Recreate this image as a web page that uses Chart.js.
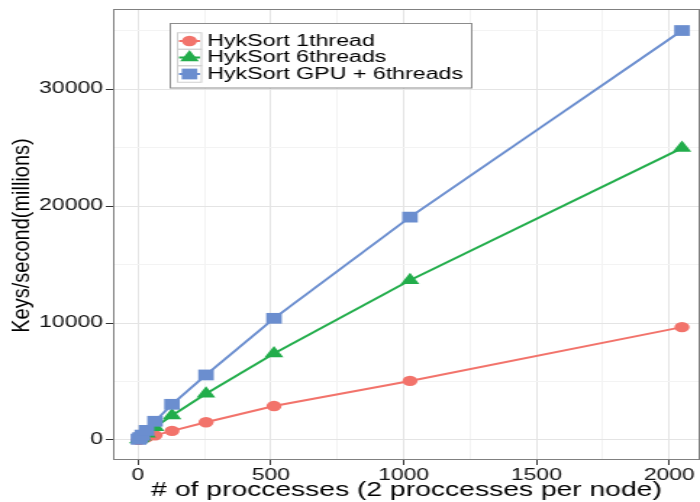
<!DOCTYPE html>
<html>
<head>
<meta charset="utf-8">
<script src="https://cdn.jsdelivr.net/npm/chart.js@4.4.1/dist/chart.umd.min.js"></script>
<style>
  html, body { margin: 0; padding: 0; background: #fff; overflow: hidden; }
  /* the reference is stretched sideways, so the chart is drawn narrow and scaled */
  #wrap { width: 483px; height: 502px; transform: scaleX(1.4493); transform-origin: 0 0; }
</style>
</head>
<body>
<div id="wrap"><canvas id="chart"></canvas></div>
<script>
// DATA
const processes = [2, 4, 8, 16, 32, 64, 128, 256, 512, 1024, 2048];
const oneThread = [15, 30, 60, 120, 230, 400, 780, 1520, 2900, 5050, 9650];
const sixThreads = [35, 70, 140, 270, 540, 1100, 2100, 3950, 7400, 13650, 24950];
const gpuSixThreads = [55, 105, 210, 420, 820, 1600, 3050, 5560, 10400, 19050, 35000];
const seriesNames = ["HykSort 1thread", "HykSort 6threads", "HykSort GPU + 6threads"];
const xTicks = [0, 500, 1000, 1500, 2000];
const xMinorTicks = [250, 750, 1250, 1750];
const yTicks = [0, 10000, 20000, 30000];
const yMinorTicks = [5000, 15000, 25000, 35000];
const xTitle = "# of proccesses (2 proccesses per node)";
const yTitle = "Keys/second(millions)";

const FONT = '"Liberation Sans", Arial, Helvetica, sans-serif';

function toPoints(values) {
  return processes.map((p, i) => ({ x: p, y: values[i] }));
}

function setTicks(major, minor) {
  return (scale) => {
    scale.ticks = major.concat(minor)
      .sort((a, b) => a - b)
      .map((v) => ({ value: v, major: major.includes(v) }));
  };
}

// y title is drawn by hand so it can be squeezed like the original
const yTitlePlugin = {
  id: "yTitle",
  afterDraw(chart) {
    const ctx = chart.ctx;
    ctx.save();
    ctx.translate(20, 235.5);
    ctx.rotate(-Math.PI / 2);
    ctx.scale(1, 0.8);
    ctx.font = "20px " + FONT;
    ctx.fillStyle = "#000";
    ctx.textAlign = "center";
    ctx.textBaseline = "alphabetic";
    ctx.fillText(yTitle, 0, 0);
    ctx.restore();
  }
};

// full panel border
const panelBorder = {
  id: "panelBorder",
  afterDatasetsDraw(chart) {
    const { ctx, chartArea: a } = chart;
    ctx.save();
    ctx.strokeStyle = "#808080";
    ctx.lineWidth = 1;
    ctx.strokeRect(a.left + 0.5, a.top + 0.5, a.right - a.left - 1, a.bottom - a.top - 1);
    ctx.restore();
  }
};

// legend inside the panel, ggplot style
const insideLegend = {
  id: "insideLegend",
  afterDraw(chart) {
    const ctx = chart.ctx;
    const box = { left: 117.5, top: 23.5, right: 325.5, bottom: 88 };
    ctx.save();
    ctx.fillStyle = "#fff";
    ctx.fillRect(box.left, box.top, box.right - box.left, box.bottom - box.top);
    ctx.strokeStyle = "#8c8c8c";
    ctx.lineWidth = 1;
    ctx.strokeRect(box.left, box.top, box.right - box.left, box.bottom - box.top);

    const keyLeft = 122.5, keySize = 16.5, firstRow = 41;
    [0, 1, 2].forEach((di, row) => {
      const ds = chart.data.datasets[di];
      const cy = firstRow + row * keySize;
      ctx.strokeStyle = "#d0d0d0";
      ctx.lineWidth = 1;
      ctx.strokeRect(keyLeft, cy - keySize / 2, keySize, keySize);
      ctx.strokeStyle = ds.borderColor;
      ctx.lineWidth = 2;
      ctx.beginPath();
      ctx.moveTo(keyLeft + 1, cy);
      ctx.lineTo(keyLeft + keySize - 1, cy);
      ctx.stroke();
      ctx.fillStyle = ds.pointBackgroundColor;
      ctx.strokeStyle = ds.pointBackgroundColor;
      Chart.helpers.drawPoint(ctx, {
        pointStyle: ds.pointStyle,
        radius: ds.pointRadius,
        borderWidth: 0,
        rotation: 0
      }, keyLeft + keySize / 2, cy);
      ctx.fillStyle = "#000";
      ctx.font = "16px " + FONT;
      ctx.textAlign = "left";
      ctx.textBaseline = "middle";
      ctx.fillText(ds.label, 143, cy + 0.5);
    });
    ctx.restore();
  }
};

const colors = ["#F2736B", "#22AD4B", "#6B8ECF"];
const styles = ["circle", "triangle", "rect"];
const radii = [5.2, 7.5, 7.6];
const seriesValues = [oneThread, sixThreads, gpuSixThreads];

const datasets = seriesValues.map((vals, i) => ({
  label: seriesNames[i],
  data: toPoints(vals),
  showLine: true,
  borderColor: colors[i],
  backgroundColor: colors[i],
  borderWidth: 2,
  pointStyle: styles[i],
  pointRadius: radii[i],
  pointBackgroundColor: colors[i],
  pointBorderColor: colors[i],
  pointBorderWidth: 0,
  order: 2 - i   // blue drawn on top
}));

const gridColor = (c) => (c.tick && c.tick.major ? "#E4E4E4" : "#F3F3F3");
const tickMarkColor = (c) => (c.tick && c.tick.major ? "#333" : "rgba(0,0,0,0)");

new Chart(document.getElementById("chart"), {
  type: "scatter",
  data: { datasets: datasets },
  options: {
    responsive: true,
    maintainAspectRatio: false,
    animation: false,
    devicePixelRatio: 1,
    layout: { autoPadding: false, padding: { top: 9, left: 0, right: 0, bottom: 0 } },
    plugins: {
      legend: { display: false },
      tooltip: { enabled: false }
    },
    scales: {
      x: {
        type: "linear",
        position: "bottom",
        min: -94,
        max: 2116,
        border: { display: false },
        afterBuildTicks: setTicks(xTicks, xMinorTicks),
        grid: { color: gridColor, tickColor: tickMarkColor, tickLength: 5, lineWidth: 1 },
        ticks: {
          autoSkip: false,
          maxRotation: 0,
          padding: 1,
          color: "#111",
          font: { family: FONT, size: 15.8 },
          callback: (v) => (xTicks.includes(v) ? String(v) : "")
        },
        title: {
          display: true,
          text: xTitle,
          color: "#000",
          font: { family: FONT, size: 19.5, lineHeight: 1 },
          padding: { top: 0, bottom: 2 }
        },
        afterFit: (s) => { s.height = 42; s.paddingLeft = 0; s.paddingRight = 0; }
      },
      y: {
        type: "linear",
        min: -1710,
        max: 36840,
        border: { display: false },
        afterBuildTicks: setTicks(yTicks, yMinorTicks),
        grid: { color: gridColor, tickColor: tickMarkColor, tickLength: 5, lineWidth: 1 },
        ticks: {
          autoSkip: false,
          padding: 2,
          color: "#111",
          font: { family: FONT, size: 15.8 },
          callback: (v) => (yTicks.includes(v) ? String(v) : "")
        },
        title: { display: false },
        afterFit: (s) => { s.width = 78; s.paddingTop = 0; s.paddingBottom = 0; }
      }
    }
  },
  plugins: [panelBorder, insideLegend, yTitlePlugin]
});
</script>
</body>
</html>
